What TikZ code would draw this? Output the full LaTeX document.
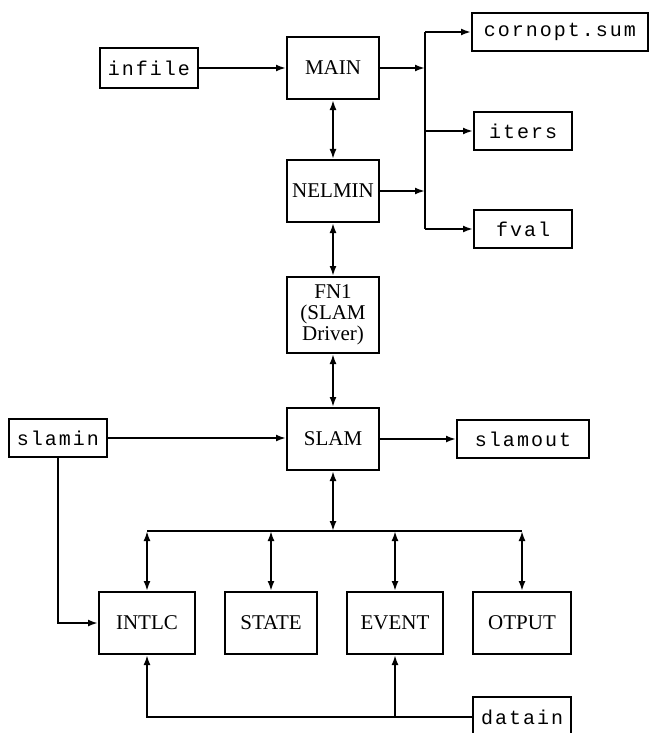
\documentclass[tikz,border=0pt]{standalone}
\usepackage{fontspec}
\setmainfont{Liberation Serif}
\setmonofont{Liberation Mono}[LetterSpace=10]
\usetikzlibrary{arrows.meta}
\begin{document}
\begin{tikzpicture}[x=1bp,y=-1bp,
  prog/.style={draw,line width=2bp,inner sep=0pt,align=center,font=\fontsize{21bp}{21bp}\selectfont},
  file/.style={draw,line width=2bp,inner sep=0pt,font=\ttfamily\fontsize{20bp}{24bp}\selectfont},
  conn/.style={line width=2bp},
  arr/.style={conn,-{Latex[length=10bp,width=7bp]}},
  darr/.style={conn,{Latex[length=10bp,width=7bp]}-{Latex[length=10bp,width=7bp]}}]
\useasboundingbox (0,0) rectangle (649,733);
\clip (0,0) rectangle (649,733);
% program boxes
\node[prog,minimum width=92bp,minimum height=62bp] (main) at (333,68) {MAIN};
\node[prog,minimum width=92bp,minimum height=62bp] (nelmin) at (333,191) {NELMIN};
\node[prog,minimum width=92bp,minimum height=76bp] (fn1) at (333,315) {FN1\\(SLAM\\Driver)};
\node[prog,minimum width=92bp,minimum height=62bp] (slam) at (333,439) {SLAM};
\node[prog,minimum width=96bp,minimum height=62bp] (intlc) at (147,623) {INTLC};
\node[prog,minimum width=92bp,minimum height=62bp] (state) at (271,623) {STATE};
\node[prog,minimum width=96bp,minimum height=62bp] (event) at (395,623) {EVENT};
\node[prog,minimum width=98bp,minimum height=62bp] (otput) at (522,623) {OTPUT};
% file boxes
\node[file,minimum width=98bp,minimum height=40bp] (infile) at (149,68) {infile};
\node[file,minimum width=176bp,minimum height=38bp] (cornopt) at (560,32) {cornopt.sum};
\node[file,minimum width=98bp,minimum height=38bp] (iters) at (523,131) {iters};
\node[file,minimum width=98bp,minimum height=38bp] (fval) at (523,229) {fval};
\node[file,minimum width=98bp,minimum height=38bp] (slamin) at (58,438) {slamin};
\node[file,minimum width=132bp,minimum height=38bp] (slamout) at (523,439) {slamout};
\node[file,minimum width=98bp,minimum height=40bp] (datain) at (522,717) {datain};
% junction points
\coordinate (ttop) at (425,32);
\coordinate (tbot) at (425,229);
\coordinate (busL) at (147,531);
\coordinate (busR) at (522,531);
\coordinate (busC) at (333,531);
\coordinate (retL) at (147,717);
\coordinate (retE) at (395,717);
% connectors
\draw[arr] (infile.east) -- (infile.east -| main.west);
\draw[arr] (main.east) -- (main.east -| ttop);
\draw[arr] (nelmin.east) -- (nelmin.east -| ttop);
\draw[conn] (ttop) -- (tbot);
\draw[arr] (ttop) -- (cornopt.west);
\draw[arr] (iters.west -| ttop) -- (iters.west);
\draw[arr] (tbot) -- (fval.west);
\draw[darr] (main) -- (nelmin);
\draw[darr] (nelmin) -- (fn1);
\draw[darr] (fn1) -- (slam);
\draw[arr] (slamin.east) -- (slamin.east -| slam.west);
\draw[arr] (slam.east) -- (slam.east -| slamout.west);
\draw[darr] (slam.south) -- (busC);
\draw[conn] (busL) -- (busR);
\draw[darr] (busL) -- (intlc.north);
\draw[darr] (state.north |- busL) -- (state.north);
\draw[darr] (event.north |- busL) -- (event.north);
\draw[darr] (busR) -- (otput.north);
\draw[arr] (slamin.south) -- (slamin.south |- intlc.west) -- (intlc.west);
\draw[arr] (datain.west) -- (retL) -- (intlc.south);
\draw[arr] (retE) -- (event.south);
\end{tikzpicture}
\end{document}
